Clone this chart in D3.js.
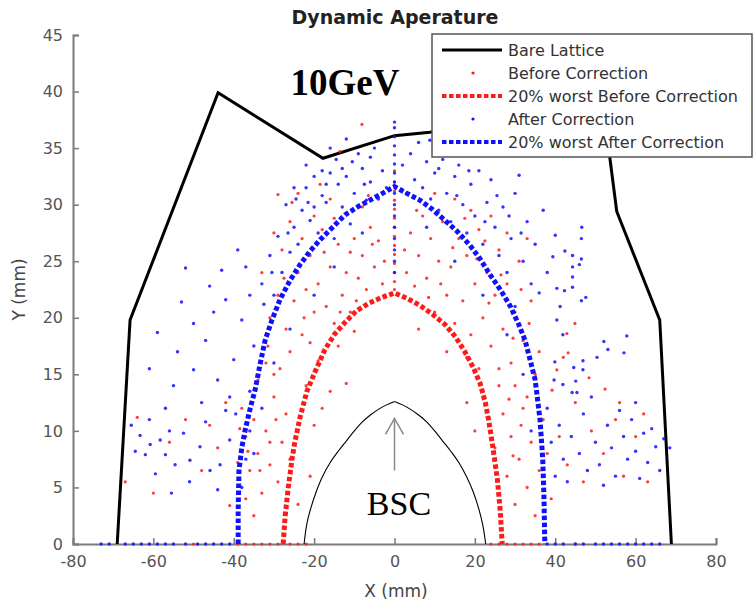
<!DOCTYPE html>
<html>
<head>
<meta charset="utf-8">
<script src="https://cdn.jsdelivr.net/npm/d3@7"></script>
<style>
  body { margin: 0; background: #fff; }
  text { font-family: "DejaVu Sans", "Open Sans", sans-serif; }
</style>
</head>
<body>
<svg id="chart" width="755" height="604"></svg>
<script>
// ---- Data (mm) ----
const xTicks = [-80, -60, -40, -20, 0, 20, 40, 60, 80];
const xTickLabels = ["-80", "-60", "-40", "-20", "0", "20", "40", "60", "80"];
const yTicks = [0, 5, 10, 15, 20, 25, 30, 35, 40, 45];
const yTickLabels = ["0", "5", "10", "15", "20", "25", "30", "35", "40", "45"];

// Bare lattice dynamic aperture
const bareX = [-69, -65.8, -43.9, -17.8, 0, 8.8, 24, 51.5, 53.6, 55.3, 66, 68.9];
const bareY = [0, 19.8, 39.9, 34.1, 36.1, 36.4, 37.5, 40, 34.1, 29.4, 19.8, 0];

// 20% worst seeds, before correction
const worstBeforeX = [-27.7, -27.2, -26.5, -25.5, -24.8, -23.5, -21.8, -19.8, -17.3, -14.8, -12.3, -9.5, -6.3, -3.2, 0,
  3.2, 6.3, 9.5, 12.6, 15.2, 17.5, 19.6, 21.3, 22.6, 23.4, 24.2, 24.9, 25.6, 26.3, 26.8];
const worstBeforeY = [0, 2.5, 4.8, 7.5, 9, 11.2, 13.5, 15.2, 17.2, 18.6, 19.6, 20.6, 21.3, 21.8, 22.2,
  21.7, 21.1, 20.3, 19.4, 18.3, 17, 15.6, 14.2, 12.5, 11, 9.2, 7.5, 5.7, 3, 0];

// 20% worst seeds, after correction
const worstAfterX = [-38.9, -38.9, -38.7, -38, -37.2, -35.9, -34.7, -33.5, -32.2, -30.5, -28.5, -26, -23.5, -21, -18.5,
  -15.4, -12.3, -9.2, -6.1, -3, 0, 3.1, 6.3, 9.4, 12.6, 15.7, 18.8, 21.3, 23.8, 26.3, 28.7, 30.8, 32.5, 33.8, 35,
  35.7, 36.2, 36.6, 36.9, 37.2, 37.4];
const worstAfterY = [0, 3, 6.5, 8.5, 10, 12, 13.6, 15.8, 18, 19.8, 21.6, 23.3, 24.7, 25.9, 26.9,
  28, 29.1, 29.8, 30.4, 31, 31.6, 31, 30.4, 29.6, 28.6, 27.6, 26.4, 25.2, 23.8, 22.5, 21.1, 19.5, 18, 16.2, 14.5,
  12.5, 11, 9, 7.4, 4, 0];

// Beam stay clear
const bscX = [-22.5, -21.8, -20.8, -19.5, -18, -16, -14, -12, -10, -8, -6, -4, -2, 0,
  2, 4, 6, 8, 10, 12, 14, 16, 18, 19.6, 20.9, 21.9, 22.7];
const bscY = [0, 1.8, 3.2, 4.6, 5.9, 7.2, 8.2, 9.1, 10.0, 10.8, 11.4, 11.9, 12.3, 12.6,
  12.3, 11.9, 11.4, 10.8, 10.0, 9.1, 8.2, 7.2, 5.9, 4.6, 3.2, 1.8, 0];

// Individual seeds, before correction
const beforeCorrection = [
  [0, 22.5], [0, 23.2], [0, 24], [0, 24.8], [0, 25.6], [0, 26.4], [0, 27.2], [0, 28], [0, 28.8], [0, 29.6], [0, 30.4], [0, 31.2], [0, 32], [0, 33],
  [-30, 27.5], [-28, 26], [-26, 28.5], [-24, 24], [-23, 27], [-22, 22.5], [-21, 25.5], [-20, 20.5], [-19, 23], [-18, 27.8], [-17, 21],
  [-16, 24.5], [-15, 19.5], [-14, 26.5], [-13, 22], [-12, 24], [-11, 20.5], [-10, 27], [-9, 23.5], [-8, 25.5], [-7, 22.5], [-6, 28],
  [-5, 24.5], [-4, 26.8], [-3, 23], [-25, 21.5], [-27, 19], [-29, 22], [-31, 20], [-33, 24], [-20, 29], [-16, 30.5], [-12, 29.2],
  [-8, 29.8], [-24, 31], [-26, 17], [-23, 18.5], [-19, 16.2], [-14, 17.5], [-10, 18.8], [-29, 30.9], [-25.5, 30.2], [-8.1, 37.1], [-13.6, 34.7],
  [-27.5, 23.5], [-22.5, 20], [-17.5, 25.8], [-13.5, 20.5], [-9.5, 21.5], [-5.5, 26.5], [-2.5, 25], [-31.5, 17.5], [-28.5, 15.5],
  [-21, 17.8], [-11, 25.8], [-15, 28.8], [-6.5, 30.8], [-18.5, 31.8],
  [3, 24], [4, 27.5], [5, 22.8], [6, 25.5], [7, 29], [8, 23.5], [9, 27], [10, 20.5], [11, 25], [12, 28.5], [13, 22], [14, 24.5],
  [15, 19.5], [16, 27], [17, 21.5], [18, 25.5], [19, 18.5], [20, 23], [21, 27.8], [22, 20], [23, 24], [24, 17.5], [25, 22], [26, 26],
  [27, 19], [28, 23], [29, 16], [30, 20.5], [31, 25], [32, 18], [34, 21.5], [36, 17], [15, 30.5], [19, 29.5], [24, 29], [10, 31],
  [28, 27.5], [33, 27], [13, 17], [21, 15.5], [26, 14], [6, 19],
  [2.5, 26], [5.5, 29.5], [8.5, 21.8], [11.5, 23], [14.5, 26.2], [17.5, 28.8], [20.5, 25.2], [23.5, 21.3], [26.5, 23.8], [29.5, 18.2],
  [31.5, 22.5], [33.5, 19.5], [18, 16.5], [22.5, 26.8],
  [-38, 12], [-37, 9.5], [-36, 6.5], [-35, 11], [-34, 8], [-33, 4.5], [-32, 10], [-31, 7], [-30, 13], [-29, 5.5], [-28, 9], [-27, 11.5],
  [-26, 7.5], [-34, 14.5], [-32, 16], [-30, 15], [-37, 4], [-39, 7.2], [-35, 2.5], [-24, 3.5], [-22, 14], [-20, 10.5], [-18, 12],
  [-16, 13.5], [-21, 6], [-12, 14.2], [-44, 8.5], [-46, 10.5], [-42, 12.5], [-48, 6.5], [-52, 11], [-56, 9], [-60, 4.5], [-64, 11.2],
  [-67, 5.5], [-41, 3.4], [-33.5, 6.5], [-31, 9], [-29.5, 11], [-36.5, 8.2], [-38.5, 10.2],
  [18, 12.5], [20, 10], [22, 13.5], [25, 8.5], [27, 11.5], [28, 6], [29, 9.5], [30, 3.5], [31, 7.5], [32, 12], [33, 5], [34, 9],
  [35, 2.5], [36, 6.5], [37, 11], [38, 8], [39, 4], [41, 9.5], [43, 7], [45, 12.5], [47, 5.5], [49, 10], [52, 8], [55, 11], [57, 6],
  [60, 9.5], [63, 5.5], [26, 15.5], [30, 14], [35, 15], [42, 16.5], [44.9, 19.5], [42.9, 18.6], [43.2, 16.9], [40.4, 15.4],
  [48.4, 14.7], [52.4, 13.7], [39.2, 13.6], [56, 12.5], [62, 11.5], [29.5, 7.8], [31.5, 10.5], [33, 13], [28.5, 12.8],
  [-39, 0], [-37, 0], [-35, 0], [-33, 0], [-31, 0], [-29, 0], [-26, 0], [-24, 0], [-22, 0], [-50, 0],
  [24, 0], [26, 0], [28, 0], [30, 0], [32, 0], [34, 0], [36, 0], [45, 0]
];

// Individual seeds, after correction
const afterCorrection = [
  [0, 24], [0, 25], [0, 26], [0, 27], [0, 28], [0, 29], [0, 30], [0, 31], [0, 32], [0, 32.8], [0, 33.6], [0, 34.4], [0, 35.2], [0, 36], [0, 36.8], [0, 37.3],
  [-33, 23], [-31, 25.5], [-30, 22], [-29, 27.2], [-28, 24], [-27, 30], [-26, 25.8], [-25, 28], [-24, 26.5], [-23, 29.5], [-22, 31.5],
  [-21, 28.6], [-20, 32.5], [-20, 29.8], [-19, 27.5], [-18, 33], [-17, 30.2], [-16, 32.8], [-15, 27], [-14, 31.8], [-13, 29.8],
  [-12, 32.5], [-11, 28.3], [-10, 31], [-9, 34.5], [-8, 33.2], [-7, 30.4], [-6, 32], [-5, 35], [-4, 30.5], [-3, 33], [-12, 35.8],
  [-16, 35], [-22, 33.5], [-25, 31.5], [-18, 30.8], [-6, 34.2], [-2, 31.5], [-14.5, 34],
  [-24.5, 30.5], [-21.5, 30.2], [-17, 31.8], [-13, 33.2], [-10.5, 33.8], [-7.5, 31.8], [-26.5, 27.5], [-30.5, 24], [-32.5, 21.2],
  [2, 33.5], [3, 31], [4, 34.5], [5, 32.2], [6, 35.5], [7, 31.5], [8, 33.8], [9, 30.5], [8.8, 35.7], [10, 32.8], [11, 29.5], [12, 34],
  [13, 31], [14, 28.5], [15, 32.5], [16, 33.5], [17, 30], [18, 27.5], [19, 31.8], [20, 29], [21, 33], [22, 26.5], [23, 30.2],
  [24, 32.2], [25, 28], [26, 25.5], [27, 29.8], [28, 24], [29, 27], [30, 31], [31, 32.6], [32, 25], [33, 28.5], [34, 23], [35, 26.5],
  [37, 29.5], [38, 24], [40, 27.3], [46, 24.7], [20, 34.5], [14, 35.2],
  [11, 33.2], [15.5, 30.8], [18.5, 33], [22.5, 28.5], [25.5, 30.8], [28.5, 29], [31.5, 27.5], [36, 22.2], [17.5, 35.5],
  [46.6, 28], [46.5, 27], [42.4, 25.9], [39.4, 25.4], [44.3, 25.5], [46.5, 25.2], [44.3, 24.5], [44.3, 23.6], [44.3, 22.7], [40.4, 22.6],
  [42.3, 22.4], [46.5, 21.5], [47.6, 21.8], [41.2, 21], [40.4, 19.8], [41.9, 18.5], [57.8, 18.4], [52.1, 17.9], [53.1, 17.2],
  [57.1, 16.9], [50.4, 16.5], [46.9, 16.2], [46.9, 15.4], [44.6, 15.6], [45.1, 14.4], [41.9, 14.1], [39.9, 16.1], [39.7, 14.5],
  [44.2, 13.4], [45.4, 13.4],
  [38, 12], [39, 9], [40, 6], [41, 10.5], [42, 7.5], [43, 5.5], [44, 9.5], [46, 8], [47, 11.5], [48, 6.5], [50, 9], [51, 7], [53, 10.5],
  [54, 8.5], [55, 6], [57, 9.5], [58, 7.5], [59, 11], [60, 8.2], [61, 5.8], [62, 9.8], [63, 7.2], [64, 10.2], [65, 8.6], [67, 9.3],
  [66, 6.5], [56, 11.8], [49, 13], [52, 5.2], [60, 12.5], [68.5, 8.5],
  [-59, 18.7], [-52, 24.4], [-53, 21.4], [-47, 18], [-50, 15.4], [-43, 24.2], [-42, 21.6], [-38, 19.8], [-40, 16.3], [-36, 22],
  [-35, 17.5], [-44, 14.5], [-48, 12.5], [-55, 14], [-57, 12], [-61, 15.5], [-45, 20.5], [-39, 26], [-37, 24.5], [-46, 22.8],
  [-41, 13], [-36, 13.5], [-50, 19.5], [-54, 17],
  [-63.3, 9.6], [-62, 7.9], [-60.8, 8.8], [-58.3, 9.2], [-57, 7.9], [-54.6, 7], [-50.9, 7.4], [-48.4, 8.6], [-45.9, 6.5], [-43.4, 7],
  [-41, 9.2], [-64.5, 8.2], [-61, 11], [-59.5, 6.2], [-56, 10], [-52.5, 9.8], [-47, 10.8], [-44, 4.8], [-39.5, 11.5], [-37, 7.5],
  [-36, 10], [-55.5, 4.5], [-65.5, 10.5], [-51, 5.5], [-42, 11.8], [-38, 5],
  [-30, 16], [-26, 19], [-20, 22], [-15, 24.5], [-8, 27.5], [8, 28], [15, 25], [22, 22], [28, 18.5], [32, 15], [34, 10], [-33, 12],
  [-35, 8], [30, 21],
  [-73, 0], [-71, 0], [-67, 0], [-65, 0], [-63, 0], [-61, 0], [-59, 0], [-57, 0], [-55, 0], [-52, 0], [-49, 0], [-47, 0], [-45, 0],
  [-43, 0], [-41, 0], [38, 0], [40, 0], [42, 0], [45, 0], [47, 0], [50, 0], [52, 0], [54, 0], [56, 0], [58, 0], [60, 0], [62, 0],
  [64, 0], [66, 0]
];

const legendLabels = ["Bare Lattice", "Before Correction", "20% worst Before Correction", "After Correction", "20% worst After Correction"];

// ---- Chart ----
const svg = d3.select("#chart");
const x = d3.scaleLinear().domain([-80, 80]).range([73, 716]);
const y = d3.scaleLinear().domain([0, 45]).range([544, 35]);

const RED = "#ff1a1a";
const BLUE = "#1010ff";
const AXIS = "#7a7a7a";
const LABEL = "#555";

const zip = (xs, ys) => xs.map((v, i) => [v, ys[i]]);
const line = d3.line().x(d => x(d[0])).y(d => y(d[1]));
const smoothLine = d3.line().x(d => x(d[0])).y(d => y(d[1])).curve(d3.curveCatmullRom.alpha(0.5));

// Axes
const xAxis = svg.append("g")
  .attr("transform", `translate(0,${y(0)})`)
  .call(d3.axisBottom(x).tickValues(xTicks).tickFormat((d, i) => xTickLabels[i])
    .tickSizeInner(-6).tickSizeOuter(-6).tickPadding(12));
const yAxis = svg.append("g")
  .attr("transform", `translate(${x(-80)},0)`)
  .call(d3.axisLeft(y).tickValues(yTicks).tickFormat((d, i) => yTickLabels[i])
    .tickSizeInner(-6).tickSizeOuter(-6).tickPadding(10));
[xAxis, yAxis].forEach(g => {
  g.select(".domain").attr("stroke", AXIS).attr("stroke-width", 2);
  g.selectAll(".tick line").attr("stroke", AXIS).attr("stroke-width", 1.5);
  g.selectAll(".tick text").attr("fill", LABEL).attr("font-size", 16)
    .attr("font-family", "DejaVu Sans, sans-serif");
});

// Bare lattice
svg.append("path").datum(zip(bareX, bareY)).attr("d", line)
  .attr("fill", "none").attr("stroke", "#000").attr("stroke-width", 3).attr("stroke-linejoin", "miter");

// Before-correction seeds
svg.append("g").selectAll("circle").data(beforeCorrection).join("circle")
  .attr("cx", d => x(d[0])).attr("cy", d => y(d[1])).attr("r", 1.6).attr("fill", RED).attr("fill-opacity", 0.85);

// 20% worst before correction
svg.append("path").datum(zip(worstBeforeX, worstBeforeY)).attr("d", line)
  .attr("fill", "none").attr("stroke", RED).attr("stroke-width", 5).attr("stroke-dasharray", "4.5,2.5");

// After-correction seeds
svg.append("g").selectAll("circle").data(afterCorrection).join("circle")
  .attr("cx", d => x(d[0])).attr("cy", d => y(d[1])).attr("r", 1.7).attr("fill", BLUE).attr("fill-opacity", 0.85);

// 20% worst after correction
svg.append("path").datum(zip(worstAfterX, worstAfterY)).attr("d", line)
  .attr("fill", "none").attr("stroke", BLUE).attr("stroke-width", 5).attr("stroke-dasharray", "4.5,2.5");

// Beam stay clear outline (two smooth halves meeting at the apex)
const bscPts = zip(bscX, bscY);
const apex = bscX.indexOf(0);
[bscPts.slice(0, apex + 1), bscPts.slice(apex)].forEach(half => {
  svg.append("path").datum(half).attr("d", smoothLine)
    .attr("fill", "none").attr("stroke", "#000").attr("stroke-width", 1.1);
});

// Arrow pointing at BSC apex
const arrowTip = [0, 11.1], arrowTail = [0, 6.5];
svg.append("line")
  .attr("x1", x(arrowTail[0])).attr("y1", y(arrowTail[1]))
  .attr("x2", x(arrowTip[0])).attr("y2", y(arrowTip[1]))
  .attr("stroke", "#888").attr("stroke-width", 1.5);
svg.append("path")
  .attr("d", `M${x(0) - 9},${y(arrowTip[1]) + 16} L${x(0)},${y(arrowTip[1])} L${x(0) + 9},${y(arrowTip[1]) + 16}`)
  .attr("fill", "none").attr("stroke", "#888").attr("stroke-width", 1.5);

svg.append("text").text("BSC")
  .attr("x", 399).attr("y", 515).attr("text-anchor", "middle")
  .style("font-family", "'Liberation Serif', 'Times New Roman', serif").attr("font-size", 34).attr("fill", "#000");

svg.append("text").text("10GeV")
  .attr("x", 345).attr("y", 95).attr("text-anchor", "middle")
  .style("font-family", "'Liberation Serif', 'Times New Roman', serif").attr("font-weight", "bold")
  .attr("font-size", 37).attr("fill", "#000");

// Title and axis labels
svg.append("text").text("Dynamic Aperature")
  .attr("x", 395).attr("y", 24).attr("text-anchor", "middle")
  .attr("font-size", 19).attr("font-weight", "bold").attr("fill", "#222");
svg.append("text").text("X (mm)")
  .attr("x", 396).attr("y", 597).attr("text-anchor", "middle")
  .attr("font-size", 17).attr("fill", "#444");
svg.append("text").text("Y (mm)")
  .attr("transform", `translate(25,${y(22.5)}) rotate(-90)`).attr("text-anchor", "middle")
  .attr("font-size", 17).attr("fill", "#444");

// Legend
const legend = svg.append("g").attr("transform", "translate(432,34)");
legend.append("rect").attr("width", 320).attr("height", 123)
  .attr("fill", "#fff").attr("stroke", "#555").attr("stroke-width", 1.5);
const rows = legend.selectAll("g.row").data(legendLabels).join("g")
  .attr("class", "row").attr("transform", (d, i) => `translate(0,${16 + i * 23})`);
rows.each(function (d, i) {
  const g = d3.select(this);
  if (i === 0) {
    g.append("line").attr("x1", 10).attr("x2", 70).attr("stroke", "#000").attr("stroke-width", 3);
  } else if (i === 2 || i === 4) {
    g.append("line").attr("x1", 10).attr("x2", 70)
      .attr("stroke", i === 2 ? RED : BLUE).attr("stroke-width", 4).attr("stroke-dasharray", "4.5,2.5");
  } else {
    g.append("circle").attr("cx", 41).attr("r", 1.6).attr("fill", i === 1 ? RED : BLUE);
  }
  g.append("text").text(d).attr("x", 76).attr("dy", "0.35em")
    .attr("font-size", 16).attr("fill", "#333");
});
</script>
</body>
</html>
